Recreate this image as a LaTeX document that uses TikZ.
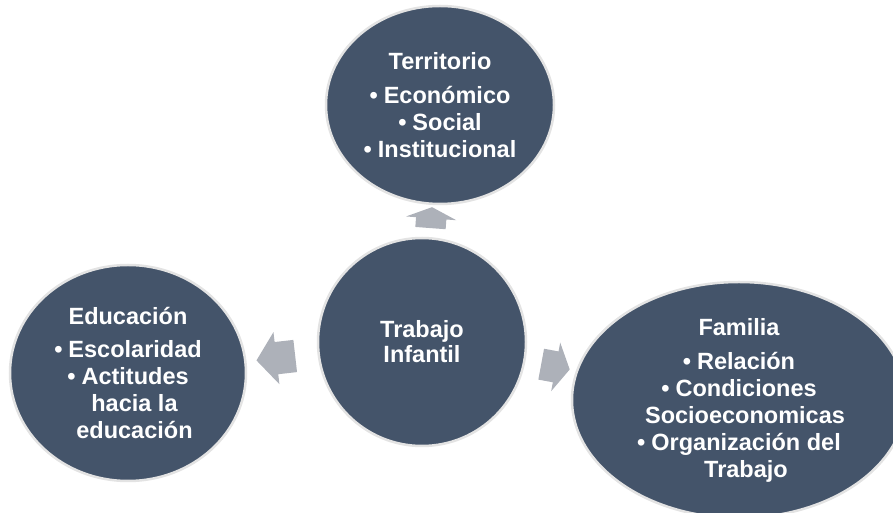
\documentclass[tikz,border=0pt]{standalone}
\usepackage{fontspec}
\setmainfont{Liberation Sans}
\usepackage{tikz}
\usetikzlibrary{shapes.geometric,shapes.arrows,calc}
\definecolor{slate}{HTML}{44546A}
\definecolor{arrowgray}{HTML}{ADB1B9}

\begin{document}
\begin{tikzpicture}[
    x=1pt,
    y=1pt,
    bubble/.style={
      ellipse,
      fill=slate,
      draw=black!11,
      line width=2.5pt,
      inner sep=0,
      align=center,
      text=white,
      font=\bfseries\fontsize{23.5}{27}\selectfont,
    },
    flow/.style={
      single arrow,
      fill=arrowgray,
      inner xsep=0,
      inner ysep=15,
      single arrow head extend=10,
    },
  ]
    \newcommand\dotitem{\textbullet\hspace{6pt}}
    \path[use as bounding box, clip] (0,0) rectangle (893,513);

    \node[bubble, circle, minimum size=208] (trabajo) at (422,171)
    {Trabajo\\[-2pt]Infantil};
    \node[bubble, minimum width=228, minimum height=198] (terr) at (440,408)
    {
      Territorio\\[7pt]
      \dotitem Económico\\
      \dotitem Social\\
      \dotitem Institucional
    };
    \node[bubble, minimum width=236, minimum height=216] (edu) at (128,140)
    {
      Educación\\[6pt]
      \dotitem Escolaridad\\
      \dotitem Actitudes\\
      \hspace*{13pt}hacia la\\
      \hspace*{13pt}educación
    };
    \node[bubble, minimum width=334, minimum height=236] (fam) at (739,113)
    {
      Familia\\[7pt]
      \dotitem Relación\\
      \dotitem Condiciones\\
      \hspace*{12pt}Socioeconomicas\\
      \dotitem Organización del\\
      \hspace*{14pt}Trabajo
    };

    % block arrows in the gaps
    \node[flow, minimum height=21, single arrow tip angle=132, rotate=85.7]
      (toterr) at ($(trabajo.north)!0.5!(terr.south)$) {};
    \node[flow, minimum height=39, inner ysep=16, single arrow tip angle=105, rotate=186.5]
      (toedu) at ($(trabajo.west)!0.5!(edu.east)$) {};
    \node[flow, minimum height=29, inner ysep=15.5, single arrow head extend=9,
      single arrow tip angle=120, rotate=-10.5]
      (tofam) at ($(trabajo.east)!0.5!(fam.west)+(2,5)$) {};
  \end{tikzpicture}
\end{document}
